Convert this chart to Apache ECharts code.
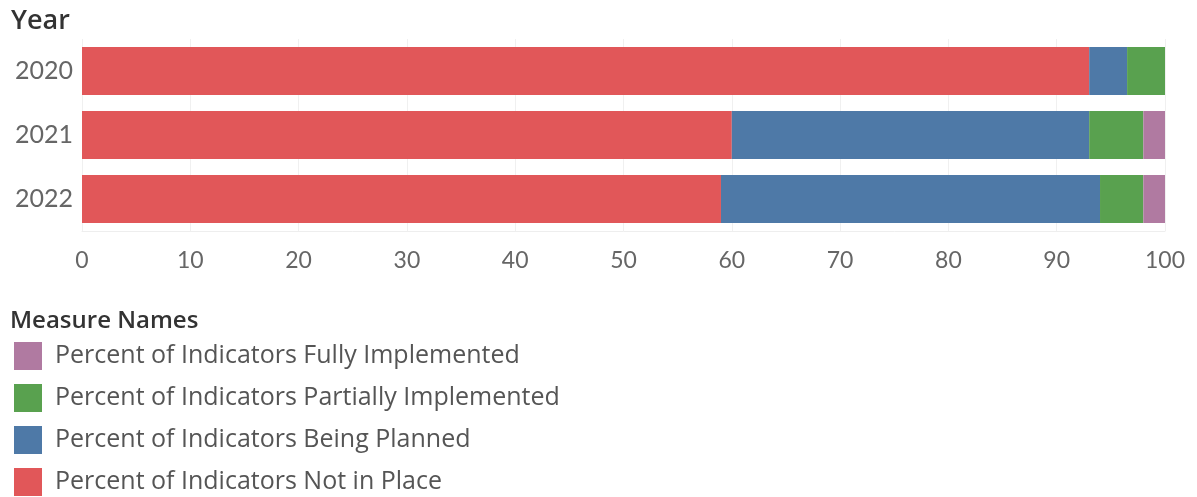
<!DOCTYPE html>
<html>
<head>
<meta charset="utf-8">
<script src="https://cdn.jsdelivr.net/npm/echarts@6/dist/echarts.min.js"></script>
<style>
  html, body { margin: 0; padding: 0; background: #fff; }
  #chart { width: 1197px; height: 497px; }
</style>
</head>
<body>
<div id="chart"></div>
<script>
// data
var years = ["2020", "2021", "2022"];
var notInPlace = [93, 60, 59];
var beingPlanned = [3.5, 33, 35];
var partiallyImpl = [3.5, 5, 4];
var fullyImpl = [0, 2, 2];

var names = {
  fully: "Percent of Indicators Fully Implemented",
  partial: "Percent of Indicators Partially Implemented",
  planned: "Percent of Indicators Being Planned",
  notIn: "Percent of Indicators Not in Place"
};

var axisFont = "Lato, 'Open Sans', sans-serif";
var font = "'Open Sans', Lato, sans-serif";
var myChart = echarts.init(document.getElementById("chart"));

function bar(name, data, color) {
  return {
    name: name,
    type: "bar",
    stack: "total",
    barCategoryGap: "25%",
    data: data,
    itemStyle: { color: color },
    emphasis: { disabled: true }
  };
}

var option = {
  animation: false,
  textStyle: { fontFamily: font },
  title: [
    {
      text: "Year",
      left: 11, top: 8, padding: 0,
      textStyle: { fontSize: 27, fontWeight: 600, color: "#333", fontFamily: font }
    },
    {
      text: "Measure Names",
      left: 10, top: 309, padding: 0,
      textStyle: { fontSize: 24, fontWeight: 600, color: "#333", fontFamily: font }
    }
  ],
  grid: { left: 82, right: 32, top: 39, bottom: 266 },
  legend: {
    orient: "vertical",
    left: 14, top: 342,
    padding: 0,
    itemWidth: 28, itemHeight: 28,
    itemGap: 14,
    icon: "rect",
    data: [names.fully, names.partial, names.planned, names.notIn],
    textStyle: { fontSize: 25, lineHeight: 28, color: "#555", fontFamily: font, padding: [0, 0, 0, 8] },
    selectedMode: false
  },
  xAxis: {
    type: "value",
    min: 0, max: 100, interval: 10,
    axisLine: { show: true, lineStyle: { color: "#eeeeee" } },
    axisTick: { show: false },
    axisLabel: { fontSize: 23, color: "#666", margin: 18, fontFamily: axisFont },
    splitLine: { show: true, lineStyle: { color: "#f0f0f0" } }
  },
  yAxis: {
    type: "category",
    data: years,
    inverse: true,
    axisLine: { show: false },
    axisTick: { show: false },
    axisLabel: { fontSize: 25, color: "#666", margin: 9, fontFamily: axisFont }
  },
  series: [
    bar(names.notIn, notInPlace, "#e15759"),
    bar(names.planned, beingPlanned, "#4e79a7"),
    bar(names.partial, partiallyImpl, "#59a14f"),
    bar(names.fully, fullyImpl, "#b07aa1")
  ]
};
myChart.setOption(option);
</script>
</body>
</html>
